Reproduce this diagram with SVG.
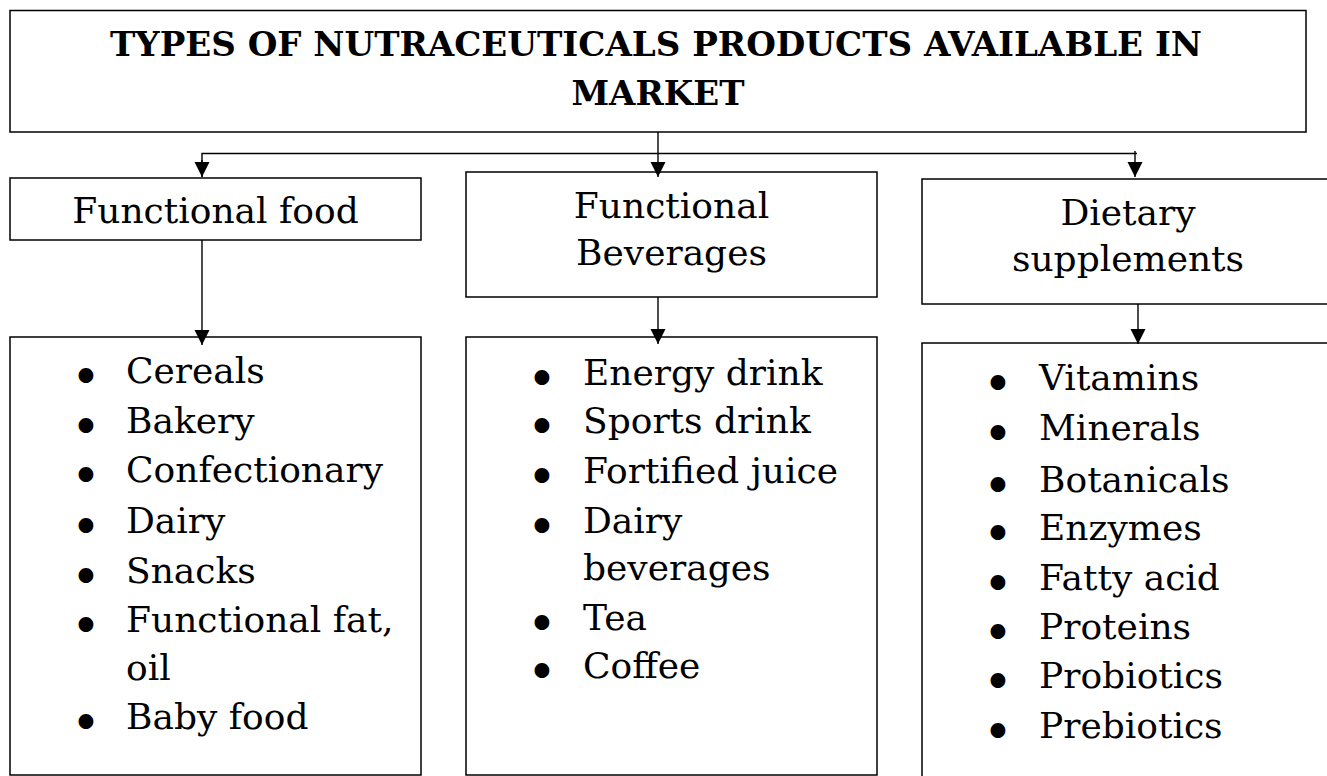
<svg xmlns="http://www.w3.org/2000/svg" width="1327" height="776" viewBox="0 0 1327 776">
<style>
.box{fill:#fff;stroke:#000;stroke-width:1.5}
.t{font-family:"DejaVu Serif","Liberation Serif",serif;font-size:36px;fill:#000}
.c{text-anchor:middle}
.title{font-family:"DejaVu Serif","Liberation Serif",serif;font-weight:bold;font-size:34px;fill:#000;text-anchor:middle}
.b{font-family:"DejaVu Sans","Liberation Sans",sans-serif;font-weight:bold;font-size:42px;fill:#000;text-anchor:middle}
.con{fill:none;stroke:#000;stroke-width:1.4}
</style>
<defs>
<marker id="ah" markerUnits="userSpaceOnUse" markerWidth="16" markerHeight="16" refX="15" refY="7.5" orient="auto">
<path d="M0,0 L15,7.5 L0,15 z" fill="#000"/>
</marker>
</defs>
<rect width="1327" height="776" fill="#fff"/>
<g id="title">
<rect class="box" x="10" y="10.5" width="1296" height="121.5"/>
<text class="title" x="656" y="56" textLength="1092" lengthAdjust="spacingAndGlyphs">TYPES OF NUTRACEUTICALS PRODUCTS AVAILABLE IN</text>
<text class="title" x="658" y="105">MARKET</text>
</g>
<g id="functional-food">
<rect class="box" x="10" y="178" width="411" height="62"/>
<text class="t c" x="215.5" y="223">Functional food</text>
</g>
<g id="functional-beverages">
<rect class="box" x="466" y="172" width="411" height="125"/>
<text class="t c" x="671.5" y="218">Functional</text>
<text class="t c" x="671.5" y="265">Beverages</text>
</g>
<g id="dietary-supplements">
<rect class="box" x="922" y="179" width="420" height="125"/>
<text class="t c" x="1128" y="225">Dietary</text>
<text class="t c" x="1128" y="271">supplements</text>
</g>
<g id="food-list">
<rect class="box" x="10" y="337" width="411" height="438"/>
<text class="b" x="86" y="391">•</text><text class="t" x="126" y="383">Cereals</text>
<text class="b" x="86" y="441">•</text><text class="t" x="126" y="433">Bakery</text>
<text class="b" x="86" y="490">•</text><text class="t" x="126" y="482">Confectionary</text>
<text class="b" x="86" y="541">•</text><text class="t" x="126" y="533">Dairy</text>
<text class="b" x="86" y="591">•</text><text class="t" x="126" y="583">Snacks</text>
<text class="b" x="86" y="640">•</text><text class="t" x="126" y="632">Functional fat,</text>
<text class="t" x="126" y="680">oil</text>
<text class="b" x="86" y="737">•</text><text class="t" x="126" y="729">Baby food</text>
</g>
<g id="beverages-list">
<rect class="box" x="466" y="337" width="411" height="438"/>
<text class="b" x="542" y="393">•</text><text class="t" x="583" y="385">Energy drink</text>
<text class="b" x="542" y="441">•</text><text class="t" x="583" y="433">Sports drink</text>
<text class="b" x="542" y="491">•</text><text class="t" x="583" y="483">Fortified juice</text>
<text class="b" x="542" y="541">•</text><text class="t" x="583" y="533">Dairy</text>
<text class="t" x="583" y="580">beverages</text>
<text class="b" x="542" y="638">•</text><text class="t" x="583" y="630">Tea</text>
<text class="b" x="542" y="686">•</text><text class="t" x="583" y="678">Coffee</text>
</g>
<g id="supplements-list">
<rect class="box" x="922" y="343" width="420" height="450"/>
<text class="b" x="998" y="398">•</text><text class="t" x="1039" y="390">Vitamins</text>
<text class="b" x="998" y="448">•</text><text class="t" x="1039" y="440">Minerals</text>
<text class="b" x="998" y="500">•</text><text class="t" x="1039" y="492">Botanicals</text>
<text class="b" x="998" y="548">•</text><text class="t" x="1039" y="540">Enzymes</text>
<text class="b" x="998" y="598">•</text><text class="t" x="1039" y="590">Fatty acid</text>
<text class="b" x="998" y="647">•</text><text class="t" x="1039" y="639">Proteins</text>
<text class="b" x="998" y="696">•</text><text class="t" x="1039" y="688">Probiotics</text>
<text class="b" x="998" y="746">•</text><text class="t" x="1039" y="738">Prebiotics</text>
</g>
<g id="connectors">
<path class="con" d="M658,132 V177" marker-end="url(#ah)"/>
<path class="con" d="M202,177 V153.5 H1137"/>
<path class="con" d="M202,160 V177" marker-end="url(#ah)"/>
<path class="con" d="M1135,151 V177" marker-end="url(#ah)"/>
<path class="con" d="M202,240 V345" marker-end="url(#ah)"/>
<path class="con" d="M658,297 V344" marker-end="url(#ah)"/>
<path class="con" d="M1138,304 V344" marker-end="url(#ah)"/>
</g>
</svg>
